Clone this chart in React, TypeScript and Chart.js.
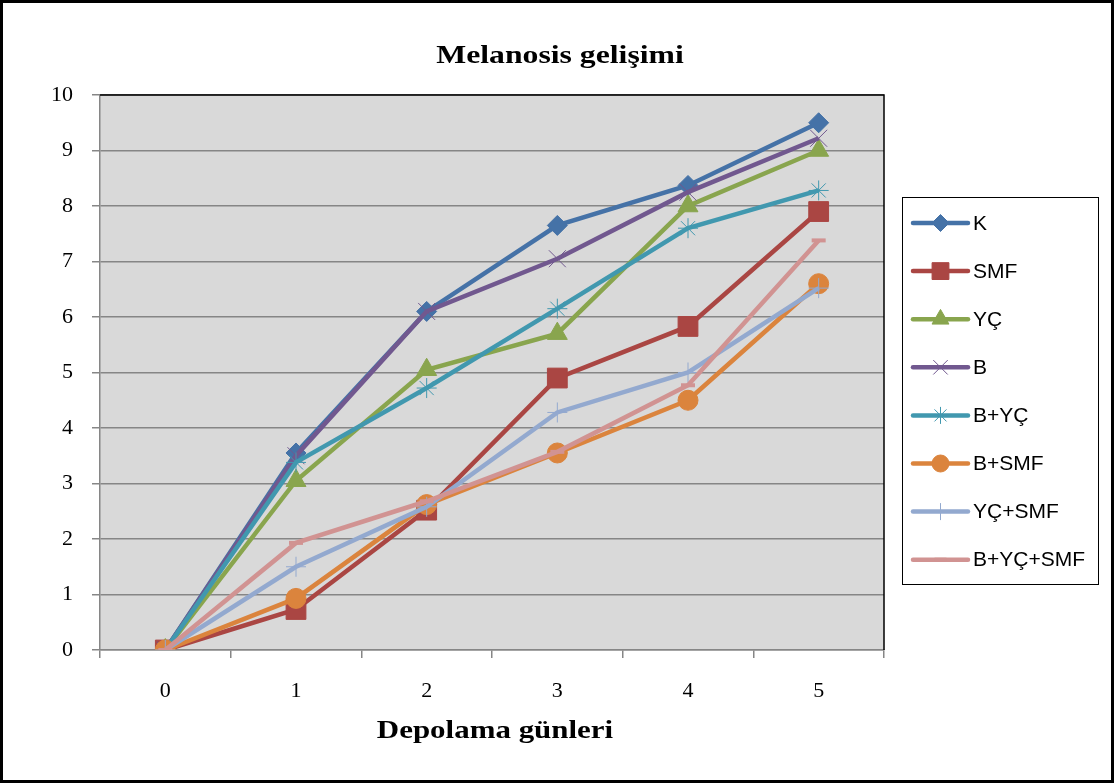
import React, { useEffect, useRef } from "react";
import { Chart, registerables } from "chart.js";
import { drawPoint } from "chart.js/helpers";

Chart.register(...registerables);

// Storage days (x axis) and melanosis scores for each treatment group
const days = ["0", "1", "2", "3", "4", "5"];
const seriesNames = ["K", "SMF", "YÇ", "B", "B+YÇ", "B+SMF", "YÇ+SMF", "B+YÇ+SMF"];
const K = [0, 3.55, 6.1, 7.65, 8.37, 9.5];
const SMF = [0, 0.73, 2.52, 4.9, 5.83, 7.9];
const YC = [0, 3.05, 5.05, 5.7, 8.0, 9.0];
const B = [0, 3.5, 6.1, 7.05, 8.25, 9.22];
const B_YC = [0, 3.38, 4.72, 6.15, 7.6, 8.28];
const B_SMF = [0, 0.93, 2.62, 3.55, 4.5, 6.6];
const YC_SMF = [0, 1.5, 2.58, 4.28, 5.0, 6.52];
const B_YC_SMF = [0, 1.93, 2.68, 3.57, 4.77, 7.38];
const yTicks = [0, 1, 2, 3, 4, 5, 6, 7, 8, 9, 10];

const seriesValues = [K, SMF, YC, B, B_YC, B_SMF, YC_SMF, B_YC_SMF];
const colors = ["#4572A7", "#AA4643", "#89A54E", "#71588F", "#4198AF", "#DB843D", "#93A9CF", "#D19392"];
const markers = ["rectRot", "rect", "triangle", "crossRot", "star", "circle", "cross", "line"];
const markerRadius = [10, 14, 11.5, 12, 10, 10, 10, 7];
const markerWidth = [1, 1, 1, 1, 1, 1, 1, 4];

const TITLE_FONT = "bold 26px 'Liberation Serif', 'Times New Roman', serif";
const TICK_FONT_FAMILY = "'Liberation Serif', 'Times New Roman', serif";
const LEGEND_FONT = "21px 'Liberation Sans', Arial, sans-serif";

function drawWideText(ctx: CanvasRenderingContext2D, text: string, cx: number, baseline: number, sx: number) {
  ctx.save();
  ctx.translate(cx, baseline);
  ctx.scale(sx, 1);
  ctx.fillText(text, 0, 0);
  ctx.restore();
}

const decorPlugin = {
  id: "decor",
  beforeDraw(chart: any) {
    const { ctx, width, height, chartArea } = chart;
    ctx.save();
    ctx.fillStyle = "#ffffff";
    ctx.fillRect(0, 0, width, height);
    ctx.fillStyle = "#D9D9D9";
    ctx.fillRect(chartArea.left, chartArea.top, chartArea.right - chartArea.left, chartArea.bottom - chartArea.top);
    ctx.restore();
  },
  afterDraw(chart: any) {
    const { ctx, width, height, chartArea } = chart;
    ctx.save();
    // plot frame: top and right edges
    ctx.strokeStyle = "#000000";
    ctx.lineWidth = 1.5;
    ctx.beginPath();
    ctx.moveTo(chartArea.left, chartArea.top);
    ctx.lineTo(chartArea.right, chartArea.top);
    ctx.lineTo(chartArea.right, chartArea.bottom);
    ctx.stroke();

    // outer frame
    ctx.lineWidth = 3;
    ctx.strokeRect(1.5, 1.5, width - 3, height - 3);

    // titles
    ctx.fillStyle = "#000000";
    ctx.font = TITLE_FONT;
    ctx.textAlign = "center";
    ctx.textBaseline = "alphabetic";
    drawWideText(ctx, "Melanosis gelişimi", 560, 63, 1.22);
    drawWideText(ctx, "Depolama günleri", 495, 738, 1.19);

    // legend
    const boxX = 902.5, boxY = 197.5, boxW = 196, boxH = 387;
    ctx.lineWidth = 1;
    ctx.strokeStyle = "#000000";
    ctx.strokeRect(boxX, boxY, boxW, boxH);
    ctx.font = LEGEND_FONT;
    ctx.textAlign = "left";
    ctx.textBaseline = "middle";
    chart.data.datasets.forEach((ds: any, i: number) => {
      const y = 223 + i * 48.1;
      ctx.strokeStyle = ds.borderColor;
      ctx.lineWidth = 4.5;
      ctx.lineCap = "round";
      ctx.beginPath();
      ctx.moveTo(913, y);
      ctx.lineTo(968, y);
      ctx.stroke();
      ctx.lineCap = "butt";
      ctx.fillStyle = ds.pointBackgroundColor;
      ctx.strokeStyle = ds.pointBorderColor;
      ctx.lineWidth = ds.pointBorderWidth;
      drawPoint(ctx, { pointStyle: ds.pointStyle, radius: ds.pointRadius * 0.85, rotation: 0, borderWidth: ds.pointBorderWidth }, 940.5, y);
      ctx.fillStyle = "#000000";
      ctx.fillText(ds.label, 973, y + 1);
    });
    ctx.restore();
  },
};

export default function App() {
  const canvasRef = useRef<HTMLCanvasElement | null>(null);

  useEffect(() => {
    const canvas = canvasRef.current;
    if (!canvas) return;
    const datasets = seriesNames.map((name, i) => ({
      label: name,
      data: seriesValues[i],
      borderColor: colors[i],
      backgroundColor: colors[i],
      borderWidth: 4.5,
      pointStyle: markers[i],
      pointRadius: markerRadius[i],
      pointHoverRadius: markerRadius[i],
      pointBackgroundColor: colors[i],
      pointBorderColor: colors[i],
      pointBorderWidth: markerWidth[i],
      tension: 0,
      fill: false,
      order: seriesNames.length - i,
    }));

    const chart = new Chart(canvas, {
      type: "line",
      data: { labels: days, datasets },
      plugins: [decorPlugin],
      options: {
        responsive: false,
        animation: false,
        events: [],
        layout: { padding: { top: 95, right: 230, left: 0, bottom: 0 } },
        plugins: {
          legend: { display: false },
          title: { display: false },
          tooltip: { enabled: false },
        },
        scales: {
          x: {
            type: "category",
            offset: true,
            grid: {
              offset: true,
              drawOnChartArea: false,
              drawTicks: true,
              tickLength: 8,
              color: "#868686",
              lineWidth: 1.5,
            },
            border: { color: "#868686", width: 1.5 },
            ticks: {
              color: "#000000",
              font: { family: TICK_FONT_FAMILY, size: 22 },
              padding: 20,
              maxRotation: 0,
            },
            afterFit: (s: any) => {
              s.height = 133;
            },
          },
          y: {
            min: 0,
            max: 10,
            afterBuildTicks: (s: any) => {
              s.ticks = yTicks.map((v) => ({ value: v }));
            },
            grid: {
              color: "#868686",
              lineWidth: 1.5,
              tickLength: 8,
            },
            border: { color: "#868686", width: 1.5 },
            ticks: {
              color: "#000000",
              font: { family: TICK_FONT_FAMILY, size: 22 },
              padding: 19,
            },
            afterFit: (s: any) => {
              s.width = 100;
            },
          },
        },
      },
    });

    return () => chart.destroy();
  }, []);

  return (
    <div style={{ position: "fixed", left: 0, top: 0, width: 1114, height: 783 }}>
      <canvas ref={canvasRef} width={1114} height={783} style={{ display: "block" }} />
    </div>
  );
}
